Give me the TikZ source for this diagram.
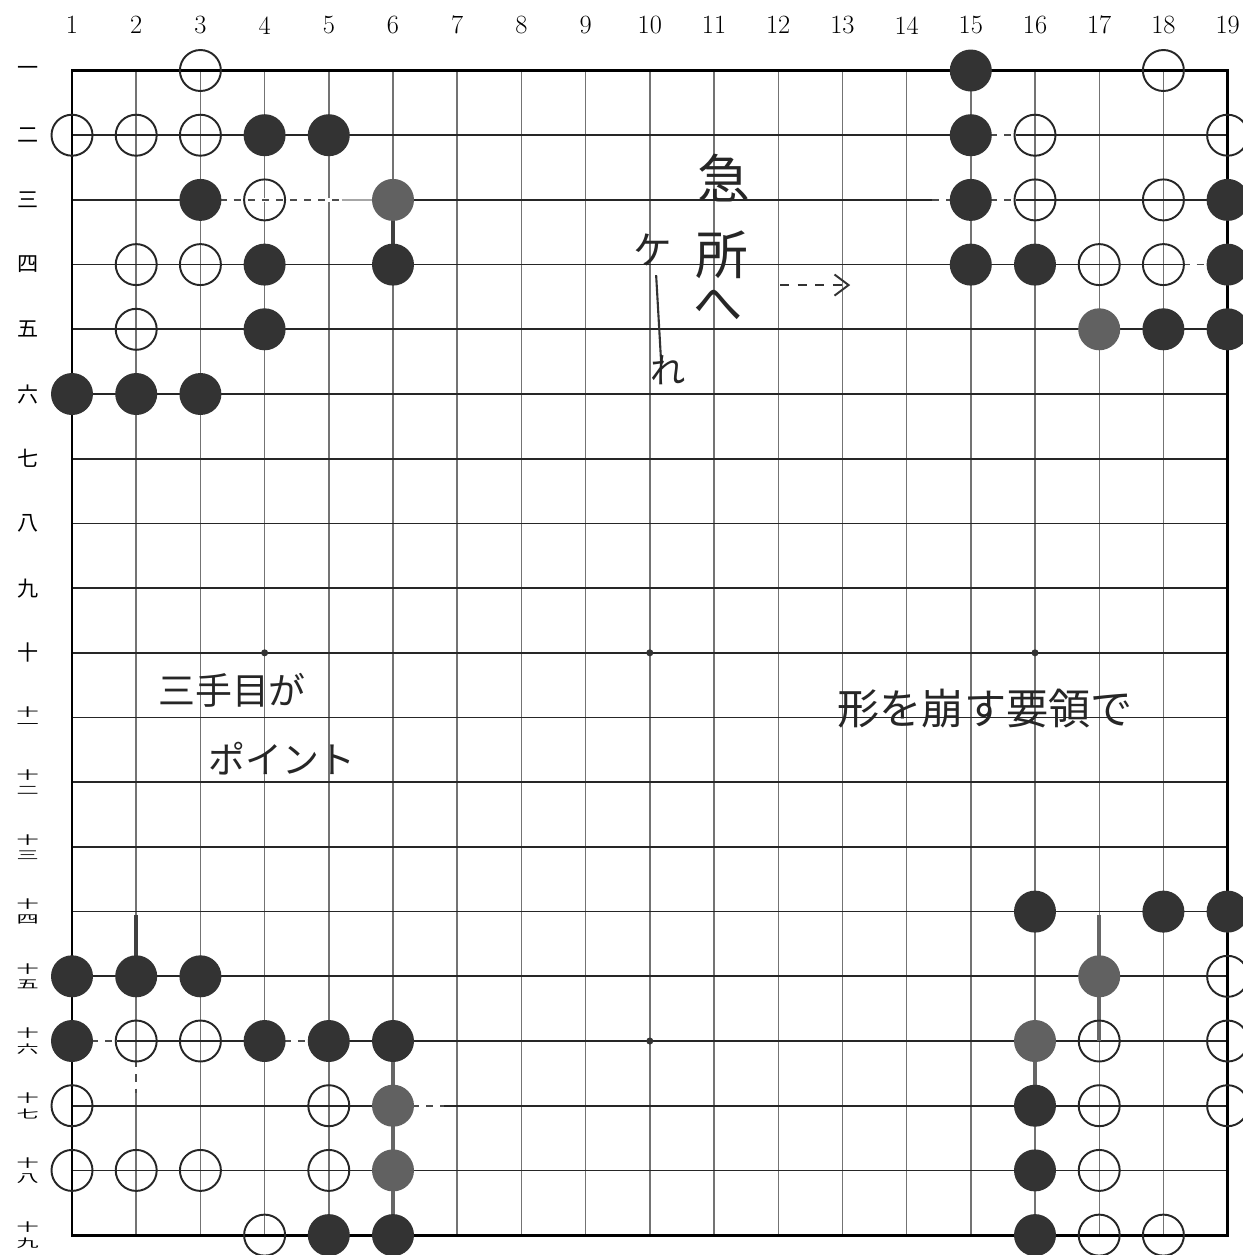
\documentclass[tikz,border=0pt]{standalone}
\usepackage{fontspec}
\newfontfamily\jp{Noto Sans CJK JP}
\usetikzlibrary{arrows.meta}
\newcommand\jtwo[1]{\scalebox{1.05}[0.55]{\shortstack{十\\[3pt]#1}}}
\tikzset{
  vline/.style={draw=black!55, line width=0.8pt},
  hline/.style={draw=black!85, line width=1pt},
  border/.style={draw=black, line width=1.6pt},
  ws/.style={circle, draw=black!85, line width=1.1pt, minimum size=0.82cm, inner sep=0pt},
  bs/.style={circle, fill=black!80, minimum size=0.84cm, inner sep=0pt},
  gs/.style={circle, fill=black!62, minimum size=0.84cm, inner sep=0pt},
  collab/.style={inner sep=0pt, font=\fontsize{15}{15}\selectfont},
  rowlab/.style={inner sep=0pt, font=\jp\fontsize{12}{12}\selectfont},
  hand/.style={inner sep=0pt, text=black!85, font=\jp\fontsize{#1}{#1}\selectfont},
  dsh/.style={draw=black!70, line width=0.9pt, dash pattern=on 4pt off 4pt},
  erase/.style={draw=white, line width=2.2pt},
  thick seg/.style={draw=black!75, line width=2.4pt},
  hoshi/.style={circle, fill=black!80, minimum size=4pt, inner sep=0pt}
}
\begin{document}
\begin{tikzpicture}
\useasboundingbox (0,0) rectangle (24.86,-25.1);
\fill[white] (0,0) rectangle (24.86,-25.1);
\begin{scope}[shift={(0.156cm,-0.116cm)}, x=1.284cm, y=-1.294cm]
  % grid
  \foreach \c in {2,...,18} \draw[vline] (\c,1) -- (\c,19);
  \foreach \r in {2,...,18} \draw[hline] (1,\r) -- (19,\r);
  \draw[border] (1,1) rectangle (19,19);
  % hoshi
  \foreach \c/\r in {4/10,10/10,16/10,10/16} \node[hoshi] (h\c-\r) at (\c,\r) {};
  % dashed / faint segments
  \draw[erase] (3.3,3) -- (5.9,3);
  \draw[dsh] (3.3,3) -- (5.2,3);
  \draw[draw=black!35, line width=0.8pt] (5.2,3) -- (5.9,3);
  \draw[erase] (15.3,2) -- (15.7,2);
  \draw[dsh] (15.3,2) -- (15.7,2);
  \draw[erase] (14.4,3) -- (14.7,3) (15.3,3) -- (15.7,3);
  \draw[dsh] (14.4,3) -- (14.7,3) (15.3,3) -- (15.7,3);
  \draw[erase] (18.3,4) -- (18.7,4);
  \draw[dsh] (18.3,4) -- (18.7,4);
  \draw[erase] (1.3,16) -- (1.7,16) (4.3,16) -- (4.7,16);
  \draw[dsh] (1.3,16) -- (1.7,16) (4.3,16) -- (4.7,16);
  \draw[erase] (6.3,17) -- (6.8,17);
  \draw[dsh] (6.3,17) -- (6.8,17);
  \draw[erase] (2,16.3) -- (2,16.8);
  \draw[dsh] (2,16.3) -- (2,16.8);
  % thick connecting segments
  \draw[thick seg] (6,3) -- (6,4);
  \draw[thick seg] (2,14.05) -- (2,15);
  \draw[thick seg, draw=black!60] (17,14.05) -- (17,16);
  \draw[thick seg, draw=black!60] (6,16) -- (6,19);
  \draw[thick seg, draw=black!60] (16,16) -- (16,17);
  % white stones
  \foreach \c/\r in {3/1,18/1,1/2,2/2,3/2,16/2,19/2,4/3,16/3,18/3,2/4,3/4,17/4,18/4,2/5,
    19/15,2/16,3/16,17/16,19/16,1/17,5/17,17/17,19/17,1/18,2/18,3/18,5/18,17/18,4/19,17/19,18/19}
    \node[ws] (w\c-\r) at (\c,\r) {};
  % black stones
  \foreach \c/\r in {15/1,4/2,5/2,15/2,3/3,15/3,19/3,4/4,6/4,15/4,16/4,19/4,4/5,18/5,19/5,
    1/6,2/6,3/6,16/14,18/14,19/14,1/15,2/15,3/15,1/16,4/16,5/16,6/16,16/17,16/18,5/19,6/19,16/19}
    \node[bs] (b\c-\r) at (\c,\r) {};
  % gray stones
  \foreach \c/\r in {6/3,17/5,17/15,16/16,6/17,6/18}
    \node[gs] (g\c-\r) at (\c,\r) {};
  % column labels
  \foreach \c in {1,...,19} \node[collab] (c\c) at (\c,0.3) {\c};
  % row labels
  \foreach \r/\t in {1/一,2/二,3/三,4/四,5/五,6/六,7/七,8/八,9/九,10/十}
    \node[rowlab] (r\r) at (0.31,\r) {\t};
  \foreach \r/\t in {11/一,12/二,13/三,14/四,15/五,16/六,17/七,18/八,19/九}
    \node[rowlab] (r\r) at (0.31,\r) {\jtwo{\t}};
\end{scope}
% handwritten notes (pixel coordinates)
\begin{scope}[x=0.02cm, y=-0.02cm]
  \node[hand=30] (k1) at (724,178) {急};
  \node[hand=30] (k2) at (722,255) {所};
  \node[hand=28] (k3) at (718,305) {へ};
  \node[hand=22] (k4) at (653,250) {ケ};
  \coordinate (k5a) at (656,275);
  \coordinate (k5b) at (661,362);
  \draw[draw=black!80, line width=1.2pt] (k5a) -- (k5b);
  \node[hand=20] (k6) at (668,370) {れ};
  \coordinate (a1) at (780,285);
  \coordinate (a2) at (850,285);
  \draw[draw=black!80, line width=1.1pt, dash pattern=on 5pt off 5pt, -{Straight Barb[length=8pt,width=12pt]}] (a1) -- (a2);
  \node[hand=21] (t1) at (232,690) {三手目が};
  \node[hand=21] (t2) at (282,758) {ポイント};
  \node[hand=24] (t3) at (985,708) {形を崩す要領で};
\end{scope}
\end{tikzpicture}
\end{document}
